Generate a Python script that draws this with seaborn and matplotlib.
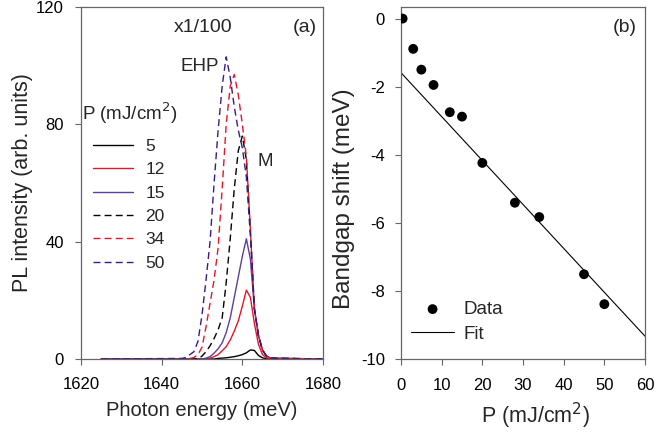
import numpy as np
import pandas as pd
import matplotlib
matplotlib.use("Agg")
import matplotlib.pyplot as plt
import seaborn as sns

# ---- data ----
energy = [1625, 1645, 1646, 1647, 1648, 1649, 1650, 1651, 1652, 1653, 1654, 1655,
          1656, 1657, 1658, 1659, 1660, 1661, 1662, 1663, 1664, 1665, 1666, 1667, 1680]

pl_5 = [0, 0, 0, 0, 0, 0, 0, 0, 0, 0, 0.2, 0.3,
        0.4, 0.6, 0.8, 1.1, 1.5, 2.1, 3.1, 2.9, 1.2, 0.4, 0.1, 0, 0]
pl_12 = [0, 0, 0, 0, 0, 0, 0, 0, 0.3, 0.8, 1.5, 2.8,
         4.2, 6.5, 9.5, 13, 18, 23.5, 21, 12, 5, 1.5, 0.4, 0.1, 0]
pl_15 = [0, 0, 0, 0, 0, 0, 0, 0.3, 0.8, 2, 3.5, 5.5,
         9, 14, 21, 28, 35, 41, 34, 17, 8, 3, 1, 0.3, 0]
pl_20 = [0, 0, 0, 0, 0, 0, 1, 2.5, 4.5, 7, 10, 14,
         26, 41, 58, 71, 76, 68, 44, 17, 8, 3, 1, 0.3, 0]
pl_34 = [0, 0, 0, 0.2, 0.5, 1.5, 4, 11, 19, 27, 38, 58,
         80, 93, 97, 90, 80, 69, 44, 17, 8, 3, 1, 0.3, 0]
pl_50 = [0, 0.2, 0.5, 1.5, 2.5, 6, 15, 27, 40, 60, 78, 93,
         103, 96, 86, 78, 72, 62, 42, 17, 8, 3, 1, 0.3, 0]

fluence_labels = ["5", "12", "15", "20", "34", "50"]

pump = [0.4, 3, 5, 8, 12, 15, 20, 28, 34, 45, 50]
gap_shift = [0, -0.89, -1.50, -1.95, -2.75, -2.88, -4.24, -5.41, -5.83, -7.51, -8.39]
fit_intercept = -1.59
fit_slope = -0.129

# ---- style ----
sns.set_theme(style="ticks")
plt.rcParams["font.family"] = ["Liberation Sans", "DejaVu Sans"]
plt.rcParams["axes.unicode_minus"] = False
plt.rcParams["axes.edgecolor"] = "#666666"
plt.rcParams["xtick.color"] = "#666666"
plt.rcParams["ytick.color"] = "#666666"
plt.rcParams["xtick.labelcolor"] = "black"
plt.rcParams["ytick.labelcolor"] = "black"

fig = plt.figure(figsize=(6.69, 4.37), dpi=100)
ax1 = fig.add_axes([81 / 669, 1 - 359 / 437, 242 / 669, 352 / 437])
ax2 = fig.add_axes([401 / 669, 1 - 359 / 437, 244 / 669, 352 / 437])

red = "#E3162C"
purple = "#5B3F9E"
dpurple = "#3A1A8A"
styles = [("black", "-"), (red, "-"), (purple, "-"),
          ("black", "--"), (red, "--"), (dpurple, "--")]
curves = [pl_5, pl_12, pl_15, pl_20, pl_34, pl_50]

# Panel (a): PL spectra
for vals, lab, (c, ls) in zip(curves, fluence_labels, styles):
    sns.lineplot(x=energy, y=vals, ax=ax1, color=c, lw=1.0, label=lab)
    if ls == "--":
        ax1.lines[-1].set_dashes((5, 3))

ax1.set_xlim(1620, 1680)
ax1.set_ylim(0, 120)
ax1.set_xticks([1620, 1640, 1660, 1680])
ax1.set_yticks([0, 40, 80, 120])
ax1.set_xlabel("Photon energy (meV)", fontsize=14.5)
ax1.set_ylabel("PL intensity (arb. units)", fontsize=15.5)
ax1.xaxis.set_label_coords(0.5, -0.12)
ax1.yaxis.set_label_coords(-0.198, 0.5)
ax1.tick_params(labelsize=12, length=4, width=0.8)
ax1.tick_params(axis="x", pad=9)
ax1.tick_params(axis="y", pad=8.5)
ax1.text(0.504, 0.943, "x1/100", transform=ax1.transAxes, fontsize=14, ha="center", va="center")
ax1.text(0.926, 0.943, "(a)", transform=ax1.transAxes, fontsize=14, ha="center", va="center")
ax1.text(0.492, 0.83, "EHP", transform=ax1.transAxes, fontsize=13.5, ha="center", va="center")
ax1.text(0.76, 0.56, "M", transform=ax1.transAxes, fontsize=13.5, ha="center", va="center")
ax1.text(0.004, 0.699, "P (mJ/cm$^2$)", transform=ax1.transAxes, fontsize=13.5, ha="left", va="center")
ax1.legend(loc="upper left", bbox_to_anchor=(0.05, 0.625), frameon=False, fontsize=12.5,
           handlelength=2.3, handletextpad=0.7, labelspacing=0.47, borderpad=0, borderaxespad=0)

# Panel (b): bandgap shift
fit_x = np.array([0, 60])
sns.scatterplot(x=pump, y=gap_shift, ax=ax2, color="black", s=50, edgecolor="none", label="Data", zorder=3)
sns.lineplot(x=fit_x, y=fit_intercept + fit_slope * fit_x, ax=ax2, color="black", lw=0.8, label="Fit")
ax2.set_xlim(0, 60)
ax2.set_ylim(-10, 0.34)
ax2.set_xticks(range(0, 61, 10))
ax2.set_yticks(range(-10, 1, 2))
ax2.set_xlabel("P (mJ/cm$^2$)", fontsize=15.5)
ax2.set_ylabel("Bandgap shift (meV)", fontsize=17.5)
ax2.xaxis.set_label_coords(0.553, -0.12)
ax2.yaxis.set_label_coords(-0.189, 0.455)
ax2.tick_params(labelsize=12, length=4.5, width=0.8)
ax2.tick_params(axis="x", pad=9)
ax2.tick_params(axis="y", pad=7)
ax2.text(0.918, 0.943, "(b)", transform=ax2.transAxes, fontsize=14, ha="center", va="center")
ax2.legend(loc="upper left", bbox_to_anchor=(0.041, 0.165), frameon=False, fontsize=13.5,
           handlelength=2.3, handletextpad=0.5, labelspacing=0.4, borderpad=0, borderaxespad=0)

for ax in (ax1, ax2):
    for sp in ax.spines.values():
        sp.set_linewidth(0.9)

fig.savefig("out.png", dpi=100)
